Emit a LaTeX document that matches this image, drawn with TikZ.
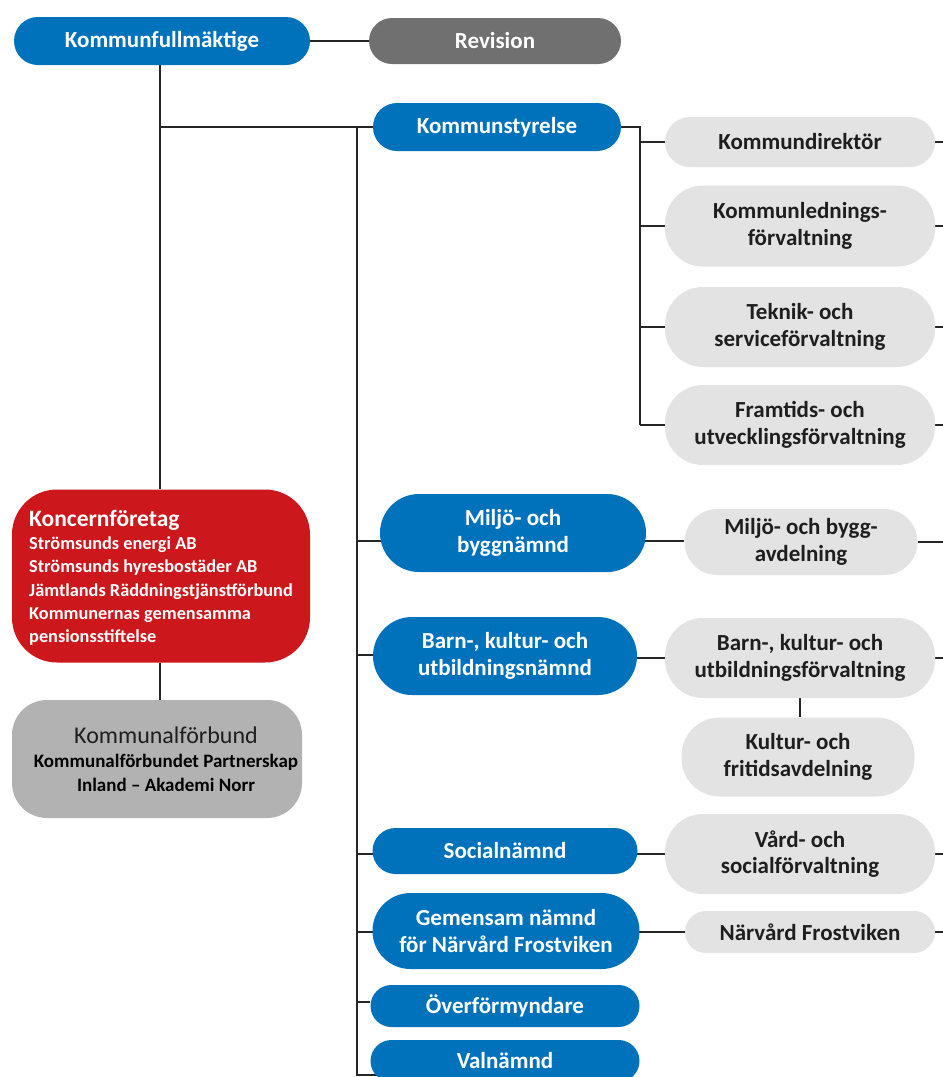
\documentclass[tikz,border=0pt]{standalone}
\usepackage{fontspec}
\setmainfont{Carlito}
\usetikzlibrary{backgrounds}
\definecolor{kblue}{RGB}{0,114,188}
\definecolor{krev}{RGB}{112,112,112}
\definecolor{klight}{RGB}{227,227,227}
\definecolor{kred}{RGB}{204,24,28}
\definecolor{kmid}{RGB}{178,178,178}
\definecolor{ktext}{RGB}{30,30,30}
\tikzset{
  box/.style={inner sep=0pt, align=center, font=\bfseries\fontsize{23}{26.5}\selectfont},
  bluebox/.style={box, fill=kblue, text=white},
  revbox/.style={box, fill=krev, text=white},
  graybox/.style={box, fill=klight, text=ktext},
  wire/.style={line width=1.2pt, draw=black!85},
}
\begin{document}
\begin{tikzpicture}[x=1pt,y=-1pt]
\useasboundingbox (0,0) rectangle (943,1077);
% top row
\node[bluebox, minimum width=296, minimum height=48, rounded corners=24] (kf) at (162,41) {Kommunfullmäktige};
\node[revbox, minimum width=252, minimum height=46, rounded corners=23] (rev) at (495,41) {Revision};
\node[bluebox, minimum width=248, minimum height=48, rounded corners=24] (ks) at (497,127) {Kommunstyrelse};
% KS administrations
\node[graybox, minimum width=270, minimum height=50, rounded corners=25] (kdir) at (800,142) {Kommundirektör};
\node[graybox, minimum width=270, minimum height=81, rounded corners=38] (kled) at (800,226) {Kommunlednings-\\förvaltning};
\node[graybox, minimum width=270, minimum height=80, rounded corners=38] (tek) at (800,327) {Teknik- och\\serviceförvaltning};
\node[graybox, minimum width=270, minimum height=80, rounded corners=38] (fram) at (800,425) {Framtids- och\\utvecklingsförvaltning};
% left column
\node[fill=kred, minimum width=298, minimum height=173, rounded corners=45, inner sep=0pt] (konc) at (161,576) {};
\node[anchor=west, inner sep=0pt, text=white, align=left, font=\bfseries\fontsize{18.3}{23.3}\selectfont] (konct) at (29,578)
  {{\fontsize{23.5}{27}\selectfont Koncernföretag}\\[-0.5pt]
   Strömsunds energi AB\\
   Strömsunds hyresbostäder AB\\
   Jämtlands Räddningstjänstförbund\\
   Kommunernas gemensamma\\
   pensionsstiftelse};
\node[fill=kmid, minimum width=290, minimum height=118, rounded corners=35, inner sep=0pt] (kfb) at (157,759) {};
\node[inner sep=0pt, text=black, align=center, font=\bfseries\fontsize{19}{24}\selectfont] (kfbt) at (166,759)
  {{\mdseries\color{ktext}\fontsize{24}{29}\selectfont Kommunalförbund}\\[0pt]
   Kommunalförbundet Partnerskap\\
   Inland -- Akademi Norr};
% committees
\node[bluebox, minimum width=266, minimum height=78, rounded corners=39] (mil) at (513,533) {Miljö- och\\byggnämnd};
\node[graybox, minimum width=233, minimum height=66, rounded corners=33] (milg) at (801,542) {Miljö- och bygg-\\avdelning};
\node[bluebox, minimum width=264, minimum height=78, rounded corners=39] (barn) at (505,656) {Barn-, kultur- och\\utbildningsnämnd};
\node[graybox, minimum width=270, minimum height=80, rounded corners=38] (barng) at (800,658) {Barn-, kultur- och\\utbildningsförvaltning};
\node[graybox, minimum width=233, minimum height=79, rounded corners=38] (kult) at (798,757) {Kultur- och\\fritidsavdelning};
\node[bluebox, minimum width=265, minimum height=46, rounded corners=23] (soc) at (505,851) {Socialnämnd};
\node[graybox, minimum width=270, minimum height=80, rounded corners=38] (vard) at (800,854) {Vård- och\\socialförvaltning};
\node[bluebox, minimum width=267, minimum height=76, rounded corners=38] (gem) at (506,931) {Gemensam nämnd\\för Närvård Frostviken};
\node[graybox, minimum width=250, minimum height=42, rounded corners=21] (narv) at (810,932) {Närvård Frostviken};
\node[bluebox, minimum width=269, minimum height=42, rounded corners=21] (overf) at (505,1006) {Överförmyndare};
\node[bluebox, minimum width=269, minimum height=42, rounded corners=21] (valn) at (505,1061) {Valnämnd};
% connectors
\coordinate (kfy) at (160,127);
\coordinate (ttop) at (357,127);
\coordinate (tbot) at (357,1075);
\coordinate (vend) at (380,1075);
\coordinate (ksb) at (640,127);
\coordinate (ksbb) at (640,425);
\coordinate (redge) at (943,0);
\begin{pgfonlayer}{background}
\draw[wire] (kf) -- (rev);
\draw[wire] (kf.south -| kfy) -- (konc.north -| kfy);
\draw[wire] (konc.south -| kfy) -- (kfb.north -| kfy);
\draw[wire] (kfy) -- (ks.west);
\draw[wire] (ttop) -- (tbot) -- (vend);
\draw[wire] (ks.east) -- (ksb) -- (ksbb);
\foreach \n in {kdir,kled,tek,fram} {
  \draw[wire] (ksb |- \n.west) -- (\n.west);
}
\draw[wire] (ttop |- 0,541) -- (milg.west |- 0,541);
\draw[wire] (ttop |- 0,655) -- (barn.west |- 0,655);
\draw[wire] (barn.east |- barng.west) -- (barng.west);
\draw[wire] (barng.south) -- (kult.north -| barng.south);
\draw[wire] (ttop |- vard.west) -- (vard.west);
\draw[wire] (ttop |- narv.west) -- (narv.west);
\draw[wire] (ttop |- 0,1002) -- (overf.west |- 0,1002);
\foreach \n in {kdir,kled,tek,fram,milg,barng,vard,narv} {
  \draw[wire] (\n.east) -- (redge |- \n.east);
}
\end{pgfonlayer}
\end{tikzpicture}
\end{document}
